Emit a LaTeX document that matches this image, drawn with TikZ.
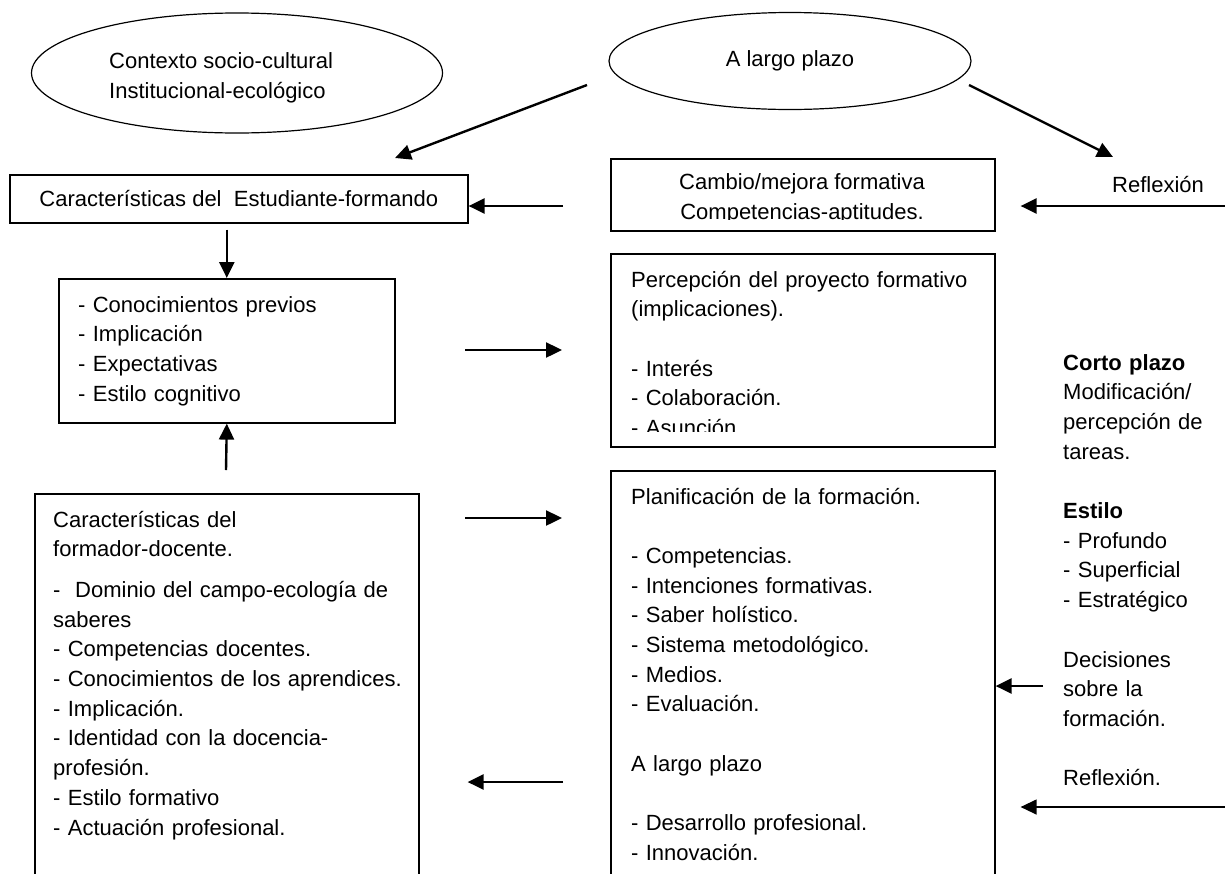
\documentclass[tikz,border=0pt]{standalone}
\usepackage{fontspec}
\setmainfont{Liberation Sans}
\usetikzlibrary{arrows.meta, shapes.geometric}

\begin{document}
\begin{tikzpicture}[x=1pt, y=-1pt,
  every node/.style={font=\fontsize{22}{29.7}\selectfont},
  box/.style={draw, line width=1.6pt, rectangle, inner sep=0pt, anchor=north west},
  oval/.style={draw, line width=1.2pt, ellipse, inner sep=0pt},
  txt/.style={inner sep=0pt, anchor=base west, align=left, text width=#1},
  arr/.style={line width=2.4pt, -{Triangle[length=16pt, width=15pt]}},
  thinarr/.style={line width=1.3pt, -{Triangle[length=16pt, width=15pt]}}]
\useasboundingbox (0,0) rectangle (1225,873);
\clip (0,0) rectangle (1225,873);
% ovals
\node[oval, minimum width=411pt, minimum height=120pt] (contexto) at (237,73) {};
\node[align=left, inner sep=0pt, anchor=west] (contextotxt) at (109,78) {Contexto socio-cultural\\Institucional-ecológico};
\node[oval, minimum width=362pt, minimum height=97pt] (largo) at (790,61) {A largo plazo};
% boxes
\node[box, minimum width=458pt, minimum height=48pt] (estud) at (9,174) {Características del\ \ Estudiante-formando};
\node[box, minimum width=336pt, minimum height=144pt] (previos) at (58,278) {};
\node[box, minimum width=384pt, minimum height=72pt] (cambio) at (610,158) {};
\node[box, minimum width=384pt, minimum height=193pt] (percep) at (610,253) {};
\node[box, minimum width=384pt, minimum height=430pt] (plan) at (610,470) {};
\node[box, minimum width=384pt, minimum height=410pt] (formador) at (34,493) {};
% texts
\node[txt=300pt] (previostxt) at (78,312) {- Conocimientos previos\\- Implicación\\- Expectativas\\- Estilo cognitivo};
\begin{scope}
\clip (cambio.north west) rectangle (994,219);
\node[align=center, inner sep=0pt] (cambiotxt) at (802,199) {Cambio/mejora formativa\\Competencias-aptitudes.};
\end{scope}
\begin{scope}
\clip (percep.north west) rectangle (994,431);
\node[txt=360pt] (perceptxt) at (631,287) {Percepción del proyecto formativo\\(implicaciones).\\[29.7pt]- Interés\\- Colaboración.\\- Asunción.};
\end{scope}
\node[txt=360pt] (plantxt) at (631,504) {Planificación de la formación.\\[29.7pt]- Competencias.\\- Intenciones formativas.\\- Saber holístico.\\- Sistema metodológico.\\- Medios.\\- Evaluación.\\[29.7pt]A largo plazo\\[29.7pt]- Desarrollo profesional.\\- Innovación.};
\node[txt=360pt] (formadortxt) at (53,527) {Características del\\formador-docente.\\[11pt]-\ \ Dominio del campo-ecología de\\saberes\\- Competencias docentes.\\- Conocimientos de los aprendices.\\- Implicación.\\- Identidad con la docencia-\\profesión.\\- Estilo formativo\\- Actuación profesional.};
\node[txt=160pt] (cortotxt) at (1063,370) {\textbf{Corto plazo}\\Modificación/\\percepción de\\tareas.\\[29.7pt]\textbf{Estilo}\\- Profundo\\- Superficial\\- Estratégico\\[29.7pt]Decisiones\\sobre la\\formación.\\[29.7pt]Reflexión.};
\node (reflexion) at (1158,185) {Reflexión};
% arrows
\coordinate (c1) at (587,85);
\coordinate (d1) at (395,158);
\draw[arr] (c1) -- (d1);
\coordinate (c2) at (969,85);
\coordinate (d2) at (1113,157);
\draw[arr] (c2) -- (d2);
\coordinate (c3) at (563,206);
\draw[arr] (c3) -- (c3 -| estud.east);
\coordinate (c4) at (1225,206);
\draw[arr, shorten >=25pt] (c4) -- (c4 -| cambio.east);
\draw[arr] ([yshift=-6pt]estud.south -| previos.north) -- (previos.north);
\coordinate (c6) at (226,470);
\draw[arr] (c6) -- (previos.south);
\coordinate (c7) at (465,350);
\draw[arr, shorten >=48pt] (c7) -- (c7 -| percep.west);
\coordinate (c8) at (465,518);
\draw[arr, shorten >=48pt] (c8) -- (c8 -| plan.west);
\coordinate (c9) at (563,782);
\draw[arr, shorten >=48pt] (c9) -- (c9 -| formador.east);
\coordinate (c10) at (1043,686);
\draw[arr] (c10) -- (c10 -| plan.east);
\coordinate (c11) at (1225,807);
\draw[thinarr, shorten >=25pt] (c11) -- (c11 -| plan.east);
\end{tikzpicture}
\end{document}
